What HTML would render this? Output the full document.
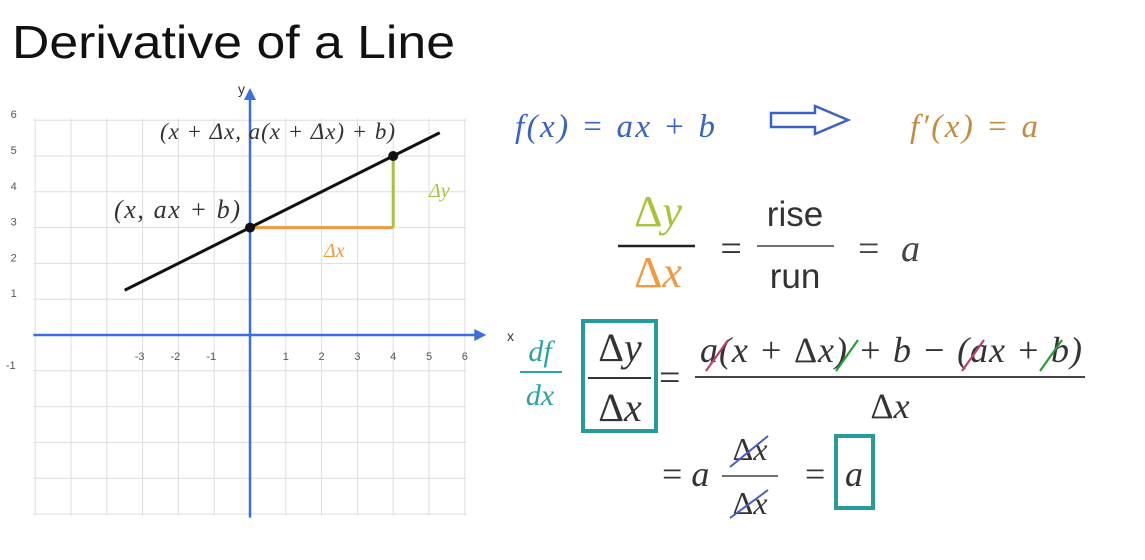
<!DOCTYPE html>
<html><head><meta charset="utf-8"><style>
body{margin:0;background:#fff;width:1145px;height:560px;overflow:hidden}
svg{display:block}
.m{font-family:"Liberation Serif",serif;font-style:italic}
.s{font-family:"Liberation Sans",sans-serif}
</style></head><body>
<svg id="c" width="1145" height="560" viewBox="0 0 1145 560" xmlns="http://www.w3.org/2000/svg">
<text x="12" y="58" class="s" font-size="46" fill="#111" textLength="443" lengthAdjust="spacingAndGlyphs">Derivative of a Line</text>
<g id="grid"></g>
<g id="plot"></g>

<text x="515" y="137" class="m" font-size="33" fill="#3b62c4" textLength="200">f(x) = ax + b</text>
<path d="M771 113 H815 V106 L848 120 L815 134 V127 H771 Z" fill="#fff" stroke="#3b62c4" stroke-width="2.5"/>
<text x="910" y="137" class="m" font-size="33" fill="#c48a3e" textLength="128">f′(x) = a</text>

<text x="658" y="226" class="m" font-size="44" fill="#a6c33c" text-anchor="middle"><tspan font-style="normal">Δ</tspan>y</text>
<line x1="618" y1="246" x2="695" y2="246" stroke="#222" stroke-width="2.5"/>
<text x="658" y="287" class="m" font-size="44" fill="#ef9a3f" text-anchor="middle"><tspan font-style="normal">Δ</tspan>x</text>
<text x="718" y="261" class="m" font-size="38" fill="#333" font-style="normal">=</text>
<text x="795" y="226" class="s" font-size="35" fill="#333" text-anchor="middle">rise</text>
<line x1="757" y1="246" x2="834" y2="246" stroke="#444" stroke-width="1.5"/>
<text x="795" y="288" class="s" font-size="35" fill="#333" text-anchor="middle">run</text>
<text x="858" y="261" class="m" font-size="38" fill="#444" textLength="62"><tspan font-style="normal">=</tspan> a</text>

<text x="507" y="341" class="s" font-size="14" fill="#333">x</text>
<text x="540" y="361" class="m" font-size="30" fill="#2aa3a3" text-anchor="middle">df</text>
<line x1="520" y1="372" x2="562" y2="372" stroke="#2aa3a3" stroke-width="2"/>
<text x="540" y="405" class="m" font-size="30" fill="#2aa3a3" text-anchor="middle">dx</text>
<rect x="583" y="321" width="73" height="110" fill="none" stroke="#249c9c" stroke-width="4"/>
<text x="620" y="361" class="m" font-size="40" fill="#333" text-anchor="middle"><tspan font-style="normal">Δ</tspan>y</text>
<line x1="588" y1="378" x2="651" y2="378" stroke="#333" stroke-width="2"/>
<text x="620" y="421" class="m" font-size="40" fill="#333" text-anchor="middle"><tspan font-style="normal">Δ</tspan>x</text>
<text x="659" y="390" font-family="Liberation Serif,serif" font-size="38" fill="#333">=</text>
<text x="700" y="362" class="m" font-size="36" fill="#333" textLength="382">a(x + <tspan font-style="normal">Δ</tspan>x) + b − (ax + b)</text>
<line x1="695" y1="377" x2="1085" y2="377" stroke="#444" stroke-width="2"/>
<text x="890" y="418" class="m" font-size="36" fill="#333" text-anchor="middle"><tspan font-style="normal">Δ</tspan>x</text>
<g stroke-width="2.2">
<line x1="706" y1="371" x2="728" y2="340" stroke="#c0406a"/>
<line x1="836" y1="371" x2="858" y2="340" stroke="#2a9a3a"/>
<line x1="962" y1="371" x2="984" y2="340" stroke="#c0406a"/>
<line x1="1040" y1="371" x2="1062" y2="340" stroke="#2a9a3a"/>
</g>
<text x="662" y="486" class="m" font-size="36" fill="#333"><tspan font-style="normal">=</tspan> a</text>
<text x="750" y="460" class="m" font-size="32" fill="#333" text-anchor="middle"><tspan font-style="normal">Δ</tspan>x</text>
<line x1="722" y1="476" x2="778" y2="476" stroke="#444" stroke-width="1.5"/>
<text x="750" y="514" class="m" font-size="32" fill="#333" text-anchor="middle"><tspan font-style="normal">Δ</tspan>x</text>
<line x1="730" y1="467" x2="768" y2="436" stroke="#4a5cc8" stroke-width="2"/>
<line x1="730" y1="518" x2="768" y2="490" stroke="#4a5cc8" stroke-width="2"/>
<text x="805" y="486" font-family="Liberation Serif,serif" font-size="36" fill="#333">=</text>
<rect x="836" y="436" width="37" height="72" fill="none" stroke="#249c9c" stroke-width="4"/>
<text x="854" y="486" class="m" font-size="36" fill="#333" text-anchor="middle">a</text>
</svg>
<script>
const xTicks=[-3,-2,-1,1,2,3,4,5,6];
const yTicks=[6,5,4,3,2,1,-1];
const lineX=[-3.5,5.3];
const slope=[0.5];
const intercept=[3];
const pointX=[0,4];
const NS="http://www.w3.org/2000/svg";
const X=v=>250+v*35.8, Y=v=>335-v*35.8;
function mk(parent,tag,attrs){const e=document.createElementNS(NS,tag);for(const k in attrs)e.setAttribute(k,attrs[k]);parent.appendChild(e);return e;}
const g=document.getElementById('grid'), p=document.getElementById('plot');
for(let i=-6;i<=6;i++){const l=mk(g,'line',{x1:X(i),x2:X(i),y1:Y(6.05),y2:Y(-5.05),stroke:'#dedede','stroke-width':1});

}
for(let j=-5;j<=6;j++){const l=mk(g,'line',{x1:X(-6.05),x2:X(6.05),y1:Y(j),y2:Y(j),stroke:'#dedede','stroke-width':1});

}
const xa=mk(p,'line',{x1:X(-6.05),x2:X(6.3),y1:Y(0),y2:Y(0),stroke:'#3b6fe0','stroke-width':2.5});


mk(p,'path',{d:`M${X(6.6)} ${Y(0)} l-12 -6 v12 z`,fill:'#3b6fe0'});
const ya=mk(p,'line',{x1:X(0),x2:X(0),y1:Y(6.6),y2:Y(-5.1),stroke:'#3b6fe0','stroke-width':2.5});


mk(p,'path',{d:`M${X(0)} ${Y(6.9)} l-6 12 h12 z`,fill:'#3b6fe0'});
const yt=mk(p,'text',{x:X(0)-12,y:Y(6.85)+4,'font-family':'Liberation Sans,sans-serif','font-size':14,fill:'#333'});yt.textContent='y';


xTicks.forEach(v=>{const t=mk(p,'text',{x:X(v)+(v<0?-3:0),y:Y(0)+25,'font-family':'Liberation Sans,sans-serif','font-size':11,fill:'#555','text-anchor':'middle'});t.textContent=v;

});
yTicks.forEach(v=>{const t=mk(p,'text',{x:X(-6.6)+(v<0?-3:0),y:Y(v)-2,'font-family':'Liberation Sans,sans-serif','font-size':11,fill:'#555','text-anchor':'middle'});t.textContent=v;

});
const f=x=>slope[0]*x+intercept[0];
const dx=mk(p,'line',{x1:X(pointX[0]),x2:X(pointX[1]),y1:Y(f(pointX[0])),y2:Y(f(pointX[0])),stroke:'#ef9a3f','stroke-width':3});


const dy=mk(p,'line',{x1:X(pointX[1]),x2:X(pointX[1]),y1:Y(f(pointX[0])),y2:Y(f(pointX[1])),stroke:'#a6c33c','stroke-width':3});


const ln=mk(p,'line',{x1:X(lineX[0]),y1:Y(f(lineX[0])),x2:X(lineX[1]),y2:Y(f(lineX[1])),stroke:'#111','stroke-width':3});


pointX.forEach(v=>{const c=mk(p,'circle',{cx:X(v),cy:Y(f(v)),r:5,fill:'#111'});

});
function lbl(x,y,txt,size,fill,name,len){const t=mk(p,'text',{x,y,'font-family':'Liberation Serif,serif','font-style':'italic','font-size':size,fill});t.textContent=txt;
if(len)t.setAttribute('textLength',len);

}
lbl(160,139,'(x + Δx, a(x + Δx) + b)',23,'#333','point-2-label',235);
lbl(114,218,'(x, ax + b)',26,'#333','point-1-label',126);
lbl(324,257,'Δx',20,'#ef9a3f','delta-x-label');
lbl(429,197,'Δy',20,'#a6c33c','delta-y-label');
</script>
</body></html>
